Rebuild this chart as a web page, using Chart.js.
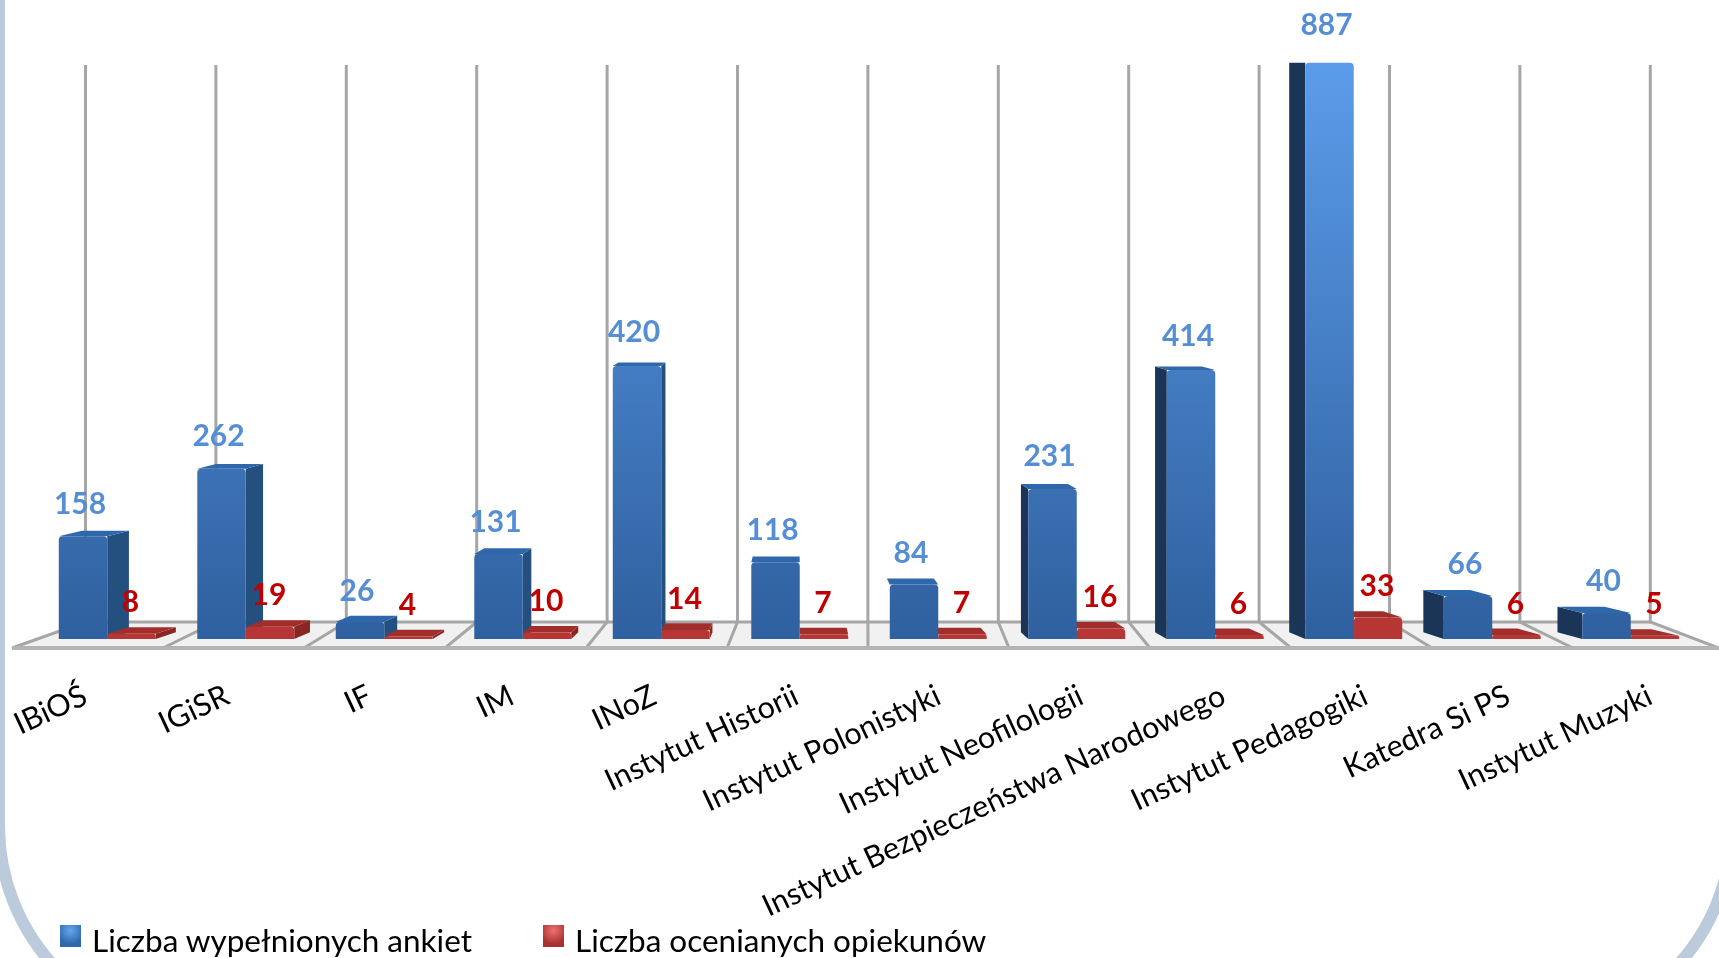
<!DOCTYPE html>
<html>
<head>
<meta charset="utf-8">
<title>Ankiety</title>
<script src="https://cdn.jsdelivr.net/npm/chart.js@4"></script>
<style>
  html, body { margin: 0; padding: 0; background: #fff; overflow: hidden; width: 1719px; height: 958px; }
  #frame { position: absolute; left: -7px; top: -300px; width: 1721px; height: 1314px; border: 12px solid #bccbdc; border-radius: 212px; }
  #chart { position: absolute; left: 0; top: 0; filter: blur(0.6px); }
  .legend-item { position: absolute; top: 921px; font: 31.5px Lato, "Open Sans", sans-serif; color: #000; white-space: nowrap; line-height: 38px; }
  .legend-item i { position: absolute; left: -32px; top: 4px; width: 21px; height: 22px; }
</style>
</head>
<body>
<div id="frame"></div>
<canvas id="chart" width="1719" height="958"></canvas>
<div class="legend-item" id="legend0" style="left: 92px"><i style="background: radial-gradient(circle at 50% 25%, #62a8f0, #2f67ab 70%)"></i></div>
<div class="legend-item" id="legend1" style="left: 575px"><i style="background: radial-gradient(circle at 50% 25%, #f07070, #a83230 70%)"></i></div>
<script>
const categories = ["IBiOŚ", "IGiSR", "IF", "IM", "INoZ", "Instytut Historii", "Instytut Polonistyki",
  "Instytut Neofilologii", "Instytut Bezpieczeństwa Narodowego", "Instytut Pedagogiki", "Katedra Si PS", "Instytut Muzyki"];
const ankiety = [158, 262, 26, 131, 420, 118, 84, 231, 414, 887, 66, 40];
const opiekunowie = [8, 19, 4, 10, 14, 7, 7, 16, 6, 33, 6, 5];
const seriesNames = ["Liczba wypełnionych ankiet", "Liczba ocenianych opiekunów"];

const FONT = "Lato, 'Open Sans', sans-serif";

// fake 3d: everything shrinks toward a vanishing point behind the plot
const VX = 795, VY = 60, KX = 0.0315, KY = 0.0115;
const backX = x => x + (VX - x) * KX;
const backY = y => y - (y - VY) * KY;

function poly(ctx, pts, fill) {
  ctx.beginPath();
  pts.forEach((p, i) => i ? ctx.lineTo(p[0], p[1]) : ctx.moveTo(p[0], p[1]));
  ctx.closePath();
  ctx.fillStyle = fill;
  ctx.fill();
}

function drawFloor(ctx) {
  const n = categories.length;
  const front = i => i === 0 ? 12 : i === n ? 1719 : 22 + 141 * i;
  const wall = i => 85.5 + 130.4 * i;
  poly(ctx, [[front(0), 648], [wall(0), 622], [wall(n), 622], [front(n), 648]], "#f1f1f1");

  ctx.strokeStyle = "#a6a6a6";
  ctx.lineWidth = 3;
  for (let i = 0; i <= n; i++) {
    ctx.beginPath();
    ctx.moveTo(wall(i), 65);
    ctx.lineTo(wall(i), 622);
    ctx.lineTo(front(i), 648);
    ctx.stroke();
  }
  ctx.beginPath();
  ctx.moveTo(wall(0), 622);
  ctx.lineTo(wall(n), 622);
  ctx.stroke();

  ctx.strokeStyle = "#b4b4b4";
  ctx.lineWidth = 4;
  ctx.beginPath();
  ctx.moveTo(front(0), 648);
  ctx.lineTo(front(n), 648);
  ctx.stroke();
}

function extrude(ctx, el, topColor, sideColor, farSideColor) {
  const l = el.x - el.width / 2, r = el.x + el.width / 2, t = el.y, b = el.base;
  const tb = backY(t), bb = backY(b);
  if (r < VX) {
    poly(ctx, [[r, t], [backX(r), tb], [backX(r), bb], [r, b]], sideColor);
  } else if (l > VX + 100) {
    poly(ctx, [[l, t], [backX(l), tb], [backX(l), bb], [l, b]], farSideColor);
  }
  poly(ctx, [[l, t], [r, t], [backX(r), tb], [backX(l), tb]], topColor);
}

const depthPlugin = {
  id: "depth",
  beforeDatasetsDraw(chart) {
    const ctx = chart.ctx;
    drawFloor(ctx);
    chart.getDatasetMeta(0).data.forEach(el => extrude(ctx, el, "#2f67ab", "#24507f", "#1a3557"));
    chart.getDatasetMeta(1).data.forEach(el => extrude(ctx, el, "#a22e2c", "#8a2725", "#7a2220"));
  },
  afterDatasetsDraw(chart) {
    const ctx = chart.ctx;
    ctx.save();
    ctx.textAlign = "center";
    ctx.textBaseline = "middle";
    ctx.font = "bold 30px " + FONT;
    ctx.fillStyle = "#558ed5";
    chart.getDatasetMeta(0).data.forEach((el, i) => ctx.fillText(ankiety[i], el.x - 3, el.y - 31 - ankiety[i] * 0.007));
    ctx.fillStyle = "#c00000";
    chart.getDatasetMeta(1).data.forEach((el, i) => ctx.fillText(opiekunowie[i], el.x - 1, el.y - 31));

    // category labels follow the front edge of the floor, not the bars
    ctx.font = "30.5px " + FONT;
    ctx.fillStyle = "#000";
    ctx.textAlign = "right";
    categories.forEach((name, i) => {
      ctx.save();
      ctx.translate(85 + 142.3 * i, 694);
      ctx.rotate(-25 * Math.PI / 180);
      ctx.fillText(name, 0, 0);
      ctx.restore();
    });
    ctx.restore();
  }
};

function faceGradient(c, top, bottom) {
  const y = c.chart.scales.y;
  const y0 = y.getPixelForValue(887), y1 = y.getPixelForValue(0);
  if (!Number.isFinite(y0) || !Number.isFinite(y1)) return bottom;
  const g = c.chart.ctx.createLinearGradient(0, y0, 0, y1);
  g.addColorStop(0, top);
  g.addColorStop(1, bottom);
  return g;
}

seriesNames.forEach((name, i) => {
  document.getElementById("legend" + i).appendChild(document.createTextNode(name));
});

new Chart(document.getElementById("chart"), {
  type: "bar",
  data: {
    labels: categories,
    datasets: [
      { label: seriesNames[0], data: ankiety, backgroundColor: c => faceGradient(c, "#5b9cea", "#2f609f") },
      { label: seriesNames[1], data: opiekunowie, backgroundColor: c => faceGradient(c, "#e05050", "#b53634") }
    ]
  },
  options: {
    responsive: false,
    animation: false,
    layout: { padding: { left: 38, right: 19, top: 51, bottom: 319 } },
    datasets: { bar: { categoryPercentage: 0.7, barPercentage: 1, borderRadius: { topLeft: 4, topRight: 4 } } },
    scales: {
      x: { display: false },
      y: { display: false, min: 0, max: 905 }
    },
    plugins: {
      tooltip: { enabled: false },
      legend: { display: false }
    }
  },
  plugins: [depthPlugin]
});
</script>
</body>
</html>
